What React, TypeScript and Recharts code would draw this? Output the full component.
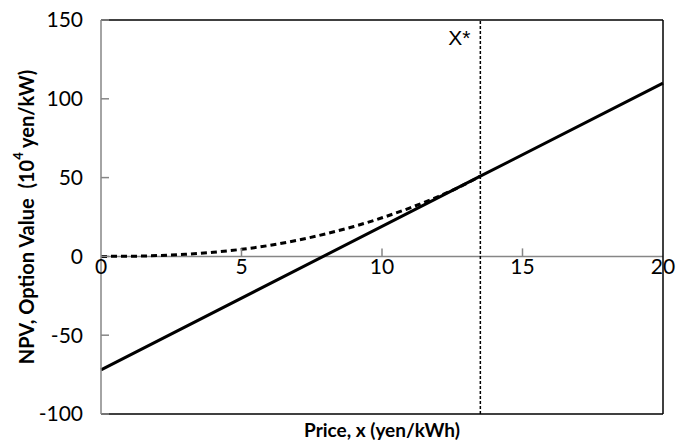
import { ComposedChart, Line, XAxis, YAxis, ReferenceLine } from "recharts";

// price x (yen/kWh)
const PRICE = [0, 1, 2, 3, 4, 5, 6, 7, 8, 9, 10, 11, 12, 13, 13.5, 20];
// NPV, straight line read at its ends and at X*
const NPV = [-72, null, null, null, null, null, null, null, null, null, null, null, null, null, 50.9, 110];
const OPTION = [0, 0.1, 0.5, 1.3, 2.6, 4.5, 7.0, 10.3, 14.3, 19.0, 24.5, 30.8, 38.0, 46.2, 50.9, null];

const X_TICKS = [0, 5, 10, 15, 20];
const Y_TICKS = [-100, -50, 0, 50, 100, 150];
const X_STAR = 13.5;

const W = 676;
const H = 442;
const M = { top: 20, right: 13, bottom: 0, left: 0 };
const Y_AXIS_W = 101;
const X_AXIS_H = 28;
const PLOT_H = H - M.top - M.bottom - X_AXIS_H;
const ZERO_Y = M.top + (PLOT_H * 150) / 250;

const GRAY = "#868686";
const FONT = "Lato, 'Liberation Sans', sans-serif";

const data = PRICE.map((x, i) => ({ x, npv: NPV[i], option: OPTION[i] }));

function PriceTick({ x, payload }: any) {
  return (
    <g>
      {payload.value > 0 && payload.value < 20 && (
        <line x1={x} x2={x} y1={ZERO_Y} y2={ZERO_Y - 8} stroke={GRAY} strokeWidth={1.5} />
      )}
      <text x={x} y={ZERO_Y + 18} textAnchor="middle" fontSize={21} fontFamily={FONT} fill="#000">
        {payload.value}
      </text>
    </g>
  );
}

function YTitle({ viewBox }: any) {
  const cx = 26;
  const cy = viewBox.y + viewBox.height / 2;
  return (
    <text
      x={cx}
      y={cy}
      transform={`rotate(-90 ${cx} ${cy})`}
      textAnchor="middle"
      dominantBaseline="central"
      fontSize={20}
      fontWeight="bold"
      fontFamily={FONT}
      fill="#000"
    >
      NPV, Option Value{"\u00a0\u00a0"}(10<tspan dy={-8} fontSize={13}>4</tspan>
      <tspan dy={8}> yen/kW)</tspan>
    </text>
  );
}

export default function App() {
  return (
    <div style={{ position: "absolute", left: 0, top: 0, background: "#fff" }}>
      <ComposedChart width={W} height={H} data={data} margin={M}>
        <XAxis
          dataKey="x"
          type="number"
          domain={[0, 20]}
          ticks={X_TICKS}
          height={X_AXIS_H}
          axisLine={false}
          tickLine={false}
          tick={<PriceTick />}
          interval={0}
          label={{
            value: "Price, x (yen/kWh)",
            position: "insideBottom",
            offset: 5,
            fontSize: 19,
            fontWeight: "bold",
            fontFamily: FONT,
            fill: "#000",
          }}
        />
        <YAxis
          type="number"
          domain={[-100, 150]}
          ticks={Y_TICKS}
          width={Y_AXIS_W}
          interval={0}
          stroke={GRAY}
          strokeWidth={1.5}
          tickSize={-8}
          tickMargin={26}
          tick={{ fontSize: 21, fontFamily: FONT, fill: "#000" }}
          label={{ content: <YTitle /> }}
        />
        <ReferenceLine y={0} stroke={GRAY} strokeWidth={1.5} />
        <ReferenceLine y={150} stroke="#000" strokeWidth={1.5} />
        <ReferenceLine y={-100} stroke="#000" strokeWidth={1.5} />
        <ReferenceLine x={20} stroke="#000" strokeWidth={1.5} />
        <ReferenceLine
          x={X_STAR}
          stroke="#000"
          strokeWidth={1.5}
          strokeDasharray="3 2"
          label={{
            value: "X*",
            position: "insideTopRight",
            offset: 10,
            fontSize: 21,
            fontFamily: "'Liberation Sans', sans-serif",
            fill: "#000",
          }}
        />
        <Line
          dataKey="npv"
          type="linear"
          stroke="#000"
          strokeWidth={3}
          dot={false}
          connectNulls
          isAnimationActive={false}
        />
        <Line
          dataKey="option"
          type="monotone"
          stroke="#000"
          strokeWidth={3}
          strokeDasharray="6 4"
          dot={false}
          isAnimationActive={false}
        />
      </ComposedChart>
    </div>
  );
}
